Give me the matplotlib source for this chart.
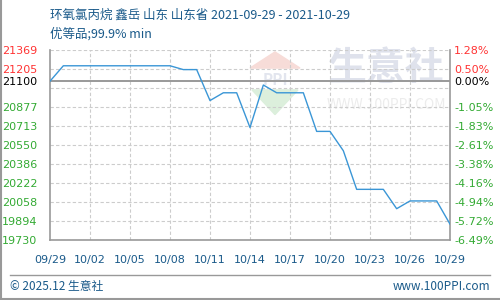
import numpy as np
import matplotlib.pyplot as plt

plt.rcParams['font.family'] = ['Noto Sans CJK SC', 'DejaVu Sans']

# data
dates = ['09/29', '09/30', '10/01', '10/02', '10/03', '10/04', '10/05', '10/06',
         '10/07', '10/08', '10/09', '10/10', '10/11', '10/12', '10/13', '10/14',
         '10/15', '10/16', '10/17', '10/18', '10/19', '10/20', '10/21', '10/22',
         '10/23', '10/24', '10/25', '10/26', '10/27', '10/28', '10/29']
prices = [21100, 21233, 21233, 21233, 21233, 21233, 21233, 21233,
          21233, 21233, 21200, 21200, 20933, 21000, 21000, 20700,
          21067, 21000, 21000, 21000, 20667, 20667, 20500, 20167,
          20167, 20167, 20000, 20067, 20067, 20067, 19867]
base = 21100
grid_vals = [21369, 21205, 21041, 20877, 20713, 20550, 20386, 20222, 20058, 19894, 19730]
left_labels = [21369, 21205, 21100, 20877, 20713, 20550, 20386, 20222, 20058, 19894, 19730]
right_labels = ['1.28%', '0.50%', '0.00%', '-1.05%', '-1.83%', '-2.61%', '-3.38%',
                '-4.16%', '-4.94%', '-5.72%', '-6.49%']
xtick_idx = list(range(0, 31, 3))

red = '#ff3333'
green = '#33aa33'
blue_txt = '#1a5a8a'
gridc = '#cccccc'

fig = plt.figure(figsize=(5, 3), dpi=100)
ax = fig.add_axes([0.1, 0.2, 0.8, 0.6333])

x = np.arange(len(prices))
ax.set_xlim(0, 30)
ax.set_ylim(19730, 21369)

# grid
for v in grid_vals:
    ax.axhline(v, color=gridc, lw=0.8, ls=(0, (3, 2)), zorder=1)
for i in xtick_idx[1:-1]:
    ax.axvline(i, color=gridc, lw=0.8, ls=(0, (3, 2)), zorder=1)
ax.axhline(base, color='#999999', lw=1.4, zorder=2)

# watermark
ax.text(0.84, 0.905, '生意社', transform=ax.transAxes, fontsize=28, color='#dfe2ec',
        ha='center', va='center', zorder=0, fontweight='bold')
ax.text(0.84, 0.71, 'WWW.100PPI.COM', transform=ax.transAxes, fontsize=10, color='#ececec',
        ha='center', va='center', zorder=0)
ax.fill([0.5, 0.5625, 0.625], [0.905, 0.99, 0.905], transform=ax.transAxes,
        color='#f7dcd8', zorder=0)
ax.text(0.5625, 0.84, 'PPI', transform=ax.transAxes, fontsize=11, color='#e2e5ee',
        ha='center', va='center', zorder=0, fontweight='bold')
ax.fill([0.505, 0.5625, 0.62], [0.79, 0.66, 0.79], transform=ax.transAxes,
        color='#dcefdc', zorder=0)

ax.plot(x, prices, color='#3a96d6', lw=1.0, zorder=3)

for s in ['left', 'bottom', 'right']:
    ax.spines[s].set_color('#999999')
    ax.spines[s].set_linewidth(1.2)
ax.spines['top'].set_visible(False)

ax.set_xticks(xtick_idx)
ax.set_xticklabels([dates[i] for i in xtick_idx], fontsize=8, color=blue_txt,
                   family='DejaVu Sans')
ax.tick_params(axis='x', length=0, pad=11)

ax.set_yticks(left_labels)
ax.set_yticklabels([str(v) for v in left_labels], fontsize=8, family='DejaVu Sans')
ax.tick_params(axis='y', length=0, pad=9)
for lab, v in zip(ax.get_yticklabels(), left_labels):
    lab.set_color(red if v > base else ('black' if v == base else green))

ax2 = ax.twinx()
ax2.set_ylim(19730, 21369)
ax2.set_yticks(left_labels)
ax2.set_yticklabels(right_labels, fontsize=8, family='DejaVu Sans')
ax2.tick_params(axis='y', length=0, pad=3)
for lab, v in zip(ax2.get_yticklabels(), left_labels):
    lab.set_color(red if v > base else ('black' if v == base else green))
for s in ax2.spines.values():
    s.set_visible(False)

fig.text(0.1, 0.95, '环氧氯丙烷 鑫岳 山东 山东省 2021-09-29 - 2021-10-29',
         fontsize=9, color=blue_txt, va='center')
fig.text(0.1, 0.887, '优等品;99.9% min', fontsize=9, color=blue_txt, va='center')

# footer
fig.add_artist(plt.Line2D([0.02, 0.98], [0.083, 0.083], color='#999999', lw=1))
fig.text(0.02, 0.045, '© 2025.12 生意社', fontsize=8.5, color=blue_txt, va='center')
fig.text(0.98, 0.045, 'www.100PPI.com', fontsize=8.5, color=blue_txt, va='center', ha='right')
fig.add_artist(plt.Line2D([0.001, 0.001], [0.0, 1.0], color='#999999', lw=1.5))
fig.add_artist(plt.Line2D([0.0, 1.0], [0.002, 0.002], color='#999999', lw=1.5))

fig.savefig('out.png', dpi=100)
